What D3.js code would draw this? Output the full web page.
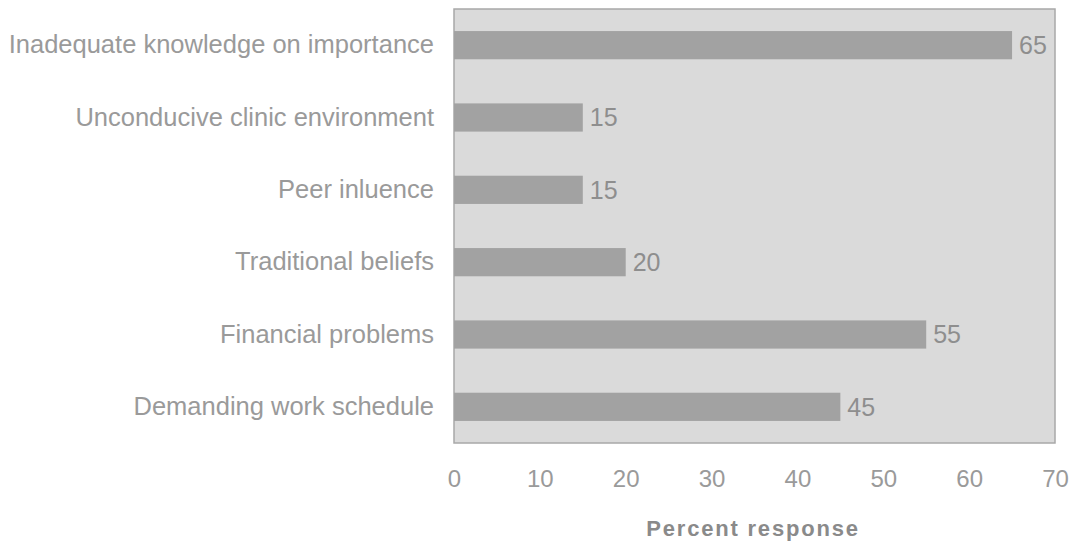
<!DOCTYPE html>
<html>
<head>
<meta charset="utf-8">
<script src="https://cdn.jsdelivr.net/npm/d3@7"></script>
<style>
  body { margin: 0; background: #fff; }
  #wrapper { width: 1076px; height: 542px; }
</style>
</head>
<body>
<div id="wrapper"></div>
<script>
const categories = [
    "Inadequate knowledge on importance",
    "Unconducive clinic environment",
    "Peer inluence",
    "Traditional beliefs",
    "Financial problems",
    "Demanding work schedule"
];
const values = [65, 15, 15, 20, 55, 45];
const xTicks = [0, 10, 20, 30, 40, 50, 60, 70];

function buildPlot() {
    var dimension = {
        width: 1076,
        height: 542,
        margin: { top: 9, left: 454, bottom: 99, right: 21 }
    };
    dimension.boundedWidth = dimension.width - dimension.margin.left - dimension.margin.right;
    dimension.boundedHeight = dimension.height - dimension.margin.top - dimension.margin.bottom;

    const svg = d3.select("#wrapper").append("svg")
        .attr("width", dimension.width)
        .attr("height", dimension.height)
        .style("font-family", "Arial, 'Liberation Sans', sans-serif");

    const bounded = svg.append("g")
        .attr("transform", `translate(${dimension.margin.left},${dimension.margin.top})`);

    const xScaler = d3.scaleLinear()
        .domain([0, 70])
        .range([0, dimension.boundedWidth]);

    const yScaler = d3.scaleBand()
        .domain(categories)
        .range([0, dimension.boundedHeight])
        .paddingInner(0.61)
        .paddingOuter(0.305);

    // plot area
    bounded.append("rect")
        .attr("width", dimension.boundedWidth)
        .attr("height", dimension.boundedHeight)
        .attr("fill", "#dadada")
        .attr("stroke", "#a8a8a8")
        .attr("stroke-width", 1.5);

    // bars
    bounded.selectAll(".bar")
        .data(values)
        .join("rect")
        .attr("class", "bar")
        .attr("x", 0)
        .attr("y", (d, i) => yScaler(categories[i]))
        .attr("width", d => xScaler(d))
        .attr("height", yScaler.bandwidth())
        .attr("fill", "#a2a2a2");

    // value labels
    bounded.selectAll(".val")
        .data(values)
        .join("text")
        .attr("class", "val")
        .attr("x", d => xScaler(d) + 7)
        .attr("y", (d, i) => yScaler(categories[i]) + yScaler.bandwidth() / 2)
        .attr("dy", "0.35em")
        .attr("fill", "#8e8e8e")
        .style("font-size", "25px")
        .text(d => d);

    // y axis
    const y_axis = d3.axisLeft(yScaler).tickSize(0).tickPadding(20);
    const yg = bounded.append("g").call(y_axis);
    yg.select(".domain").remove();
    yg.selectAll("text")
        .attr("fill", "#9a9a9a")
        .style("font-size", "25.5px");

    // x axis
    const x_axis = d3.axisBottom(xScaler).tickValues(xTicks).tickSize(0).tickPadding(27);
    const xg = bounded.append("g")
        .attr("transform", `translate(0,${dimension.boundedHeight})`)
        .call(x_axis);
    xg.select(".domain").remove();
    xg.selectAll("text")
        .attr("fill", "#9a9a9a")
        .style("font-size", "24px");

    // axis title
    svg.append("text")
        .attr("x", 753)
        .attr("y", 536)
        .attr("text-anchor", "middle")
        .attr("fill", "#8a8a8a")
        .style("font-size", "22px")
        .style("font-weight", "bold")
        .style("letter-spacing", "1.8px")
        .text("Percent response");
}

buildPlot();
</script>
</body>
</html>
